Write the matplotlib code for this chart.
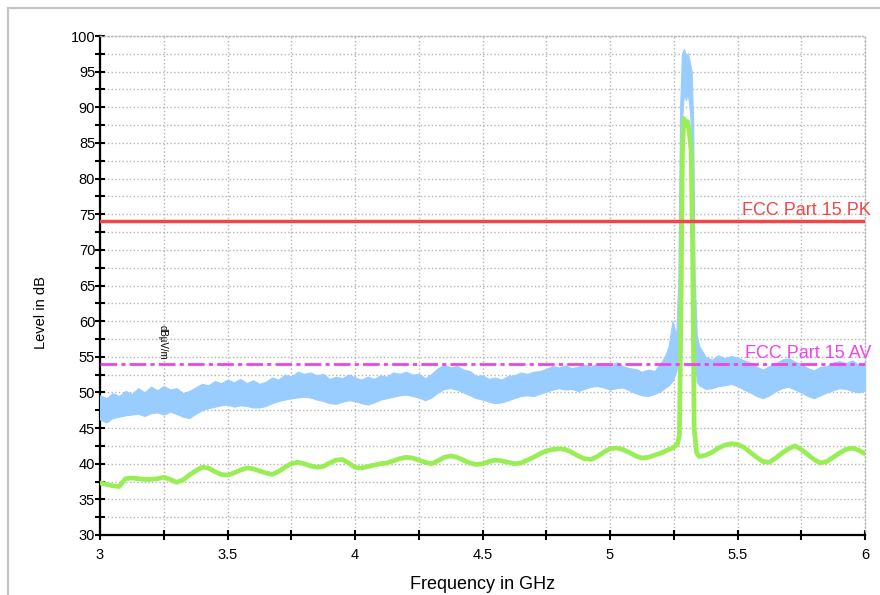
import matplotlib
matplotlib.use("Agg")
import matplotlib.pyplot as plt
from matplotlib.patches import Rectangle
from matplotlib.ticker import MultipleLocator

plt.rcParams['font.family'] = ['Liberation Sans', 'DejaVu Sans']

# Peak-detector trace, drawn as a band between its lower and upper envelope (dB)
pk_freq = [3.000, 3.025, 3.050, 3.075, 3.100, 3.125, 3.150, 3.175, 3.200, 3.225,
           3.250, 3.275, 3.300, 3.325, 3.350, 3.375, 3.400, 3.425, 3.450, 3.475,
           3.500, 3.525, 3.550, 3.575, 3.600, 3.625, 3.650, 3.675, 3.700, 3.725,
           3.750, 3.775, 3.800, 3.825, 3.850, 3.875, 3.900, 3.925, 3.950, 3.975,
           4.000, 4.025, 4.050, 4.075, 4.100, 4.125, 4.150, 4.175, 4.200, 4.225,
           4.250, 4.275, 4.300, 4.325, 4.350, 4.375, 4.400, 4.425, 4.450, 4.475,
           4.500, 4.525, 4.550, 4.575, 4.600, 4.625, 4.650, 4.675, 4.700, 4.725,
           4.750, 4.775, 4.800, 4.825, 4.850, 4.875, 4.900, 4.925, 4.950, 4.975,
           5.000, 5.025, 5.050, 5.075, 5.100, 5.125, 5.150, 5.175, 5.200, 5.215,
           5.230, 5.245, 5.260, 5.268, 5.275, 5.282, 5.290, 5.298, 5.305, 5.312,
           5.320, 5.326, 5.332, 5.340, 5.350, 5.375, 5.400, 5.425, 5.450, 5.475,
           5.500, 5.525, 5.550, 5.575, 5.600, 5.625, 5.650, 5.675, 5.700, 5.725,
           5.750, 5.775, 5.800, 5.825, 5.850, 5.875, 5.900, 5.925, 5.950, 5.975,
           6.000]
pk_upper = [49.6, 49.2, 49.9, 49.5, 50.2, 49.8, 50.6, 50.0, 50.8, 50.3,
            50.9, 50.4, 50.6, 49.9, 50.2, 50.7, 51.2, 51.0, 51.6, 51.3,
            51.8, 51.4, 51.9, 51.3, 51.7, 51.2, 51.5, 52.1, 51.8, 52.5,
            52.2, 52.9, 52.6, 52.8, 52.4, 52.6, 51.9, 52.2, 52.0, 52.5,
            52.1, 51.8, 52.2, 51.9, 52.4, 52.2, 52.8, 52.6, 52.9, 52.5,
            52.6, 52.0, 52.6, 53.4, 53.9, 53.5, 53.7, 53.2, 53.0, 52.3,
            52.4, 51.9, 52.1, 51.8, 52.3, 52.4, 52.8, 52.6, 52.9, 53.0,
            53.3, 53.7, 53.5, 53.8, 53.4, 53.6, 53.9, 53.6, 54.1, 53.8,
            53.9, 54.2, 53.7, 53.4, 53.3, 52.9, 53.2, 53.0, 54.2, 55.0,
            56.5, 60.0, 58.0, 66.0, 90.0, 97.5, 98.2, 97.0, 97.6, 96.5,
            95.0, 88.0, 66.0, 58.0, 56.5, 55.0, 54.6, 55.2, 54.8, 55.1,
            54.9, 54.5, 54.2, 53.6, 53.2, 53.7, 54.1, 54.6, 54.8, 54.3,
            54.0, 53.4, 53.1, 53.6, 53.7, 54.2, 54.4, 54.1, 54.5, 53.9,
            54.2]
pk_lower = [46.2, 45.8, 46.4, 46.6, 46.8, 46.9, 47.0, 46.7, 47.1, 47.2,
            46.9, 47.3, 47.0, 46.6, 46.4, 47.0, 47.5, 47.8, 48.0, 48.2,
            48.3, 48.0, 48.2, 48.1, 47.9, 47.9, 48.1, 48.5, 48.8, 49.0,
            49.2, 49.3, 49.4, 49.3, 49.0, 48.8, 48.5, 48.4, 48.7, 48.9,
            48.8, 48.5, 48.3, 48.6, 49.0, 49.2, 49.4, 49.6, 49.7, 49.5,
            49.3, 48.9, 49.3, 50.0, 50.5, 50.6, 50.4, 50.0, 49.6, 49.2,
            49.0, 48.7, 48.5, 48.6, 48.9, 49.2, 49.5, 49.6, 49.5, 49.8,
            50.1, 50.4, 50.6, 50.4, 50.5, 50.2, 50.5, 50.8, 50.9, 50.7,
            50.4, 50.6, 50.7, 50.3, 49.9, 49.6, 49.5, 49.8, 50.2, 50.6,
            51.0, 51.6, 53.0, 55.0, 62.0, 88.0, 92.0, 91.0, 92.0, 90.0,
            86.0, 70.0, 56.0, 51.5, 51.0, 50.5, 50.6, 50.9, 51.0, 51.2,
            50.9, 50.4, 50.0, 49.5, 49.2, 49.6, 50.2, 50.6, 50.8, 50.4,
            50.0, 49.5, 49.2, 49.6, 50.0, 50.3, 50.6, 50.5, 50.2, 50.0,
            50.3]

# Average-detector trace (dB)
av_freq = [3.000, 3.025, 3.050, 3.075, 3.100, 3.125, 3.150, 3.175, 3.200, 3.225,
           3.250, 3.275, 3.300, 3.325, 3.350, 3.375, 3.400, 3.425, 3.450, 3.475,
           3.500, 3.525, 3.550, 3.575, 3.600, 3.625, 3.650, 3.675, 3.700, 3.725,
           3.750, 3.775, 3.800, 3.825, 3.850, 3.875, 3.900, 3.925, 3.950, 3.975,
           4.000, 4.025, 4.050, 4.075, 4.100, 4.125, 4.150, 4.175, 4.200, 4.225,
           4.250, 4.275, 4.300, 4.325, 4.350, 4.375, 4.400, 4.425, 4.450, 4.475,
           4.500, 4.525, 4.550, 4.575, 4.600, 4.625, 4.650, 4.675, 4.700, 4.725,
           4.750, 4.775, 4.800, 4.825, 4.850, 4.875, 4.900, 4.925, 4.950, 4.975,
           5.000, 5.025, 5.050, 5.075, 5.100, 5.125, 5.150, 5.175, 5.200, 5.225,
           5.250, 5.265, 5.272, 5.278, 5.284, 5.290, 5.297, 5.304, 5.311, 5.318,
           5.324, 5.330, 5.340, 5.350, 5.375, 5.400, 5.425, 5.450, 5.475, 5.500,
           5.525, 5.550, 5.575, 5.600, 5.625, 5.650, 5.675, 5.700, 5.725, 5.750,
           5.775, 5.800, 5.825, 5.850, 5.875, 5.900, 5.925, 5.950, 5.975, 6.000]
av_level = [37.3, 37.1, 36.9, 36.8, 37.9, 38.0, 37.9, 37.8, 37.8, 37.9,
            38.1, 37.8, 37.4, 37.7, 38.4, 39.0, 39.5, 39.4, 38.9, 38.5,
            38.4, 38.7, 39.1, 39.4, 39.3, 39.0, 38.7, 38.5, 38.9, 39.5,
            40.0, 40.2, 40.0, 39.7, 39.5, 39.6, 40.1, 40.5, 40.6, 40.1,
            39.5, 39.4, 39.6, 39.8, 40.0, 40.1, 40.4, 40.7, 40.9, 40.8,
            40.5, 40.2, 40.0, 40.4, 40.9, 41.1, 40.9, 40.5, 40.1, 39.9,
            40.0, 40.3, 40.5, 40.4, 40.2, 40.0, 40.1, 40.5, 40.9, 41.4,
            41.8, 42.0, 42.1, 42.0, 41.6, 41.1, 40.7, 40.6, 41.0, 41.6,
            42.1, 42.2, 42.0, 41.6, 41.1, 40.8, 40.9, 41.2, 41.5, 41.9,
            42.3, 42.8, 44.0, 60.0, 84.0, 88.4, 87.5, 88.0, 86.5, 84.0,
            70.0, 45.0, 41.5, 41.0, 41.2, 41.6, 42.2, 42.6, 42.8, 42.7,
            42.3, 41.6, 40.9, 40.3, 40.2, 40.8, 41.5, 42.1, 42.5, 42.0,
            41.3, 40.6, 40.1, 40.3, 40.9, 41.5, 42.0, 42.2, 41.9, 41.4]

# Limit lines (dBµV/m)
limit_pk = 74.0
limit_av = 54.0
limit_pk_label = "FCC Part 15 PK"
limit_av_label = "FCC Part 15 AV"

x_ticks = [3, 3.5, 4, 4.5, 5, 5.5, 6]
x_tick_labels = ["3", "3.5", "4", "4.5", "5", "5.5", "6"]
y_ticks = list(range(30, 101, 5))

fig = plt.figure(figsize=(8.8, 5.95), dpi=100)
ax = fig.add_axes([100 / 880, 1 - 535 / 595, 765 / 880, 499 / 595])

# Outer frame of the page
fig.add_artist(Rectangle((8 / 880, -0.1), 1.2, 1 - 8 / 595 + 0.1,
                         transform=fig.transFigure, fill=False,
                         edgecolor='#c4c4c4', linewidth=1.6))

ax.set_xlim(3, 6)
ax.set_ylim(30, 100)
ax.set_xticks(x_ticks)
ax.set_xticklabels(x_tick_labels)
ax.set_yticks(y_ticks)
ax.xaxis.set_minor_locator(MultipleLocator(0.25))
ax.yaxis.set_minor_locator(MultipleLocator(2.5))

ax.grid(True, which='both', color='#b4b4b4', linestyle=':', linewidth=1.0)
ax.set_axisbelow(True)

for side in ('top', 'right'):
    ax.spines[side].set_color('#b4b4b4')
    ax.spines[side].set_linestyle(':')
    ax.spines[side].set_linewidth(1.0)
for side in ('left', 'bottom'):
    ax.spines[side].set_linewidth(1.6)

ax.tick_params(axis='both', which='both', direction='inout', length=7,
               width=1.5, labelsize=10.5, colors='black')
ax.tick_params(axis='x', pad=6)
ax.tick_params(axis='y', pad=0)

ax.fill_between(pk_freq, pk_lower, pk_upper, color='#99ccff', linewidth=0.8,
                edgecolor='#99ccff', zorder=3)
ax.plot(av_freq, av_level, color='#99ee55', linewidth=3.4, zorder=4)

ax.axhline(limit_pk, color='#f04848', linewidth=2.5, zorder=5)
ax.axhline(limit_av, color='#ee44ee', linewidth=2.0,
           linestyle=(0, (6, 1.5, 1.5, 1.5)), zorder=5)
ax.text(1.008, limit_pk + 0.3, limit_pk_label, transform=ax.get_yaxis_transform(),
        ha='right', va='bottom', color='#f04848', fontsize=13)
ax.text(1.008, limit_av + 0.3, limit_av_label, transform=ax.get_yaxis_transform(),
        ha='right', va='bottom', color='#ee44ee', fontsize=13)

ax.text(3.247, 57.0, "dBµV/m", rotation=270, fontsize=7, ha='center', va='center')

ax.set_xlabel("Frequency in GHz", fontsize=13)
ax.xaxis.set_label_coords(0.5, -0.082)
ax.set_ylabel("Level in dB", fontsize=10.5)
ax.yaxis.set_label_coords(-0.068, 0.445)

fig.savefig("out.png", dpi=100)
